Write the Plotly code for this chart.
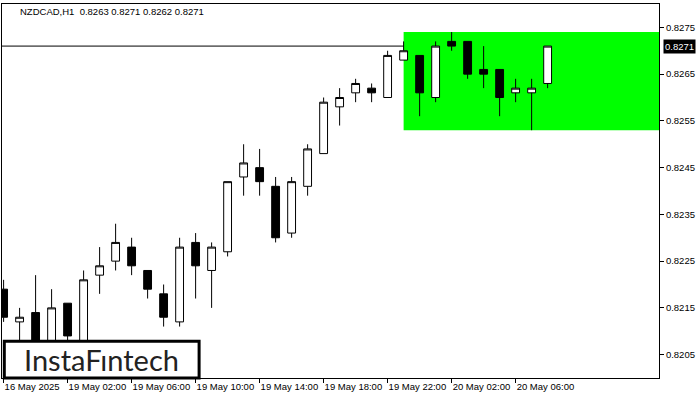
import plotly.graph_objects as go

# ---- data ----
opens = [0.8219, 0.8212, 0.8214, 0.8208, 0.8216, 0.8208, 0.8222, 0.8225, 0.8228, 0.8223,
         0.8218, 0.8212, 0.8229, 0.8223, 0.8227, 0.8243, 0.8245, 0.8241, 0.8231, 0.8241,
         0.8248, 0.8258, 0.8261, 0.8262, 0.8260, 0.8268, 0.8269, 0.8260, 0.8272, 0.8272,
         0.8266, 0.8266, 0.8261, 0.8261, 0.8263]
highs = [0.8221, 0.8215, 0.8222, 0.8219, 0.8216, 0.8223, 0.8228, 0.8233, 0.8230, 0.8223,
         0.8220, 0.8230, 0.8231, 0.8229, 0.8242, 0.8250, 0.8249, 0.8243, 0.8243, 0.8250,
         0.8260, 0.8262, 0.8264, 0.8263, 0.8270, 0.8272, 0.8269, 0.8272, 0.8274, 0.8272,
         0.8271, 0.8266, 0.8264, 0.8264, 0.8271]
lows = [0.8212, 0.8207, 0.8205, 0.8206, 0.8207, 0.8206, 0.8218, 0.8223, 0.8222, 0.8217,
        0.8211, 0.8211, 0.8217, 0.8215, 0.8226, 0.8239, 0.8239, 0.8229, 0.8230, 0.8239,
        0.8248, 0.8254, 0.8259, 0.8259, 0.8260, 0.8268, 0.8256, 0.8259, 0.8270, 0.8264,
        0.8262, 0.8256, 0.8259, 0.8253, 0.8262]
closes = [0.8213, 0.8213, 0.8207, 0.8215, 0.8209, 0.8221, 0.8224, 0.8229, 0.8224, 0.8219,
          0.8213, 0.8228, 0.8224, 0.8228, 0.8242, 0.8246, 0.8242, 0.8230, 0.8242, 0.8249,
          0.8259, 0.8260, 0.8263, 0.8261, 0.8269, 0.8270, 0.8261, 0.8271, 0.8271, 0.8265,
          0.8265, 0.8260, 0.8262, 0.8262, 0.8271]

x_tick_labels = ["16 May 2025", "19 May 02:00", "19 May 06:00", "19 May 10:00",
                 "19 May 14:00", "19 May 18:00", "19 May 22:00", "20 May 02:00",
                 "20 May 06:00"]
x_tick_step = 4

y_tick_values = [0.8205, 0.8215, 0.8225, 0.8235, 0.8245, 0.8255, 0.8265, 0.8275]
y_tick_labels = ["0.8205", "0.8215", "0.8225", "0.8235", "0.8245", "0.8255", "0.8265", "0.8275"]

symbol = "NZDCAD,H1"
current_price = 0.8271
zone_start_index = 25
zone_top = 0.8274
zone_bottom = 0.8253

# ---- figure ----
idx = list(range(len(opens)))
x_range = [-0.1, 40.96]

fig = go.Figure()
fig.add_trace(go.Candlestick(
    x=idx, open=opens, high=highs, low=lows, close=closes,
    increasing=dict(line=dict(color="black", width=1), fillcolor="white"),
    decreasing=dict(line=dict(color="black", width=1), fillcolor="black"),
    whiskerwidth=0, showlegend=False, hoverinfo="skip",
))

FONT = "Liberation Sans"

fig.update_layout(
    width=700, height=400,
    margin=dict(l=2, r=41, t=4, b=22, autoexpand=False),
    paper_bgcolor="white", plot_bgcolor="white",
    showlegend=False,
    xaxis=dict(
        range=x_range, rangeslider=dict(visible=False),
        tickvals=[i * x_tick_step for i in range(len(x_tick_labels))],
        ticktext=x_tick_labels, tickangle=0, automargin=False,
        ticks="outside", ticklen=4, tickcolor="black",
        ticklabelposition="outside right", ticklabeloverflow="allow",
        showgrid=False, zeroline=False,
        showline=True, linecolor="black", linewidth=1, mirror=True,
        tickfont=dict(family=FONT, size=9.5, color="black"),
    ),
    yaxis=dict(
        range=[0.8200, 0.8280], side="right", automargin=False,
        tickvals=y_tick_values, ticktext=y_tick_labels,
        ticklabeloverflow="allow",
        ticks="outside", ticklen=4, tickcolor="black",
        showgrid=False, zeroline=False,
        showline=True, linecolor="black", linewidth=1, mirror=True,
        tickfont=dict(family=FONT, size=9.5, color="black"),
    ),
    shapes=[
        dict(type="rect", xref="x", yref="y",
             x0=zone_start_index, x1=x_range[1], y0=zone_bottom, y1=zone_top,
             fillcolor="#00FF00", line=dict(width=0), layer="below"),
        dict(type="line", xref="paper", yref="y", x0=0, x1=1,
             y0=current_price, y1=current_price,
             line=dict(color="black", width=1), layer="below"),
        dict(type="rect", xref="paper", yref="paper",
             x0=0.0035, x1=0.3, y0=0.0, y1=0.098,
             fillcolor="white", line=dict(color="black", width=3), layer="above"),
    ],
    annotations=[
        dict(text=f"{symbol}  {opens[-1]:.4f} {highs[-1]:.4f} {lows[-1]:.4f} {closes[-1]:.4f}",
             xref="paper", yref="paper", x=0.024, y=0.981,
             xanchor="left", yanchor="middle", showarrow=False,
             font=dict(family=FONT, size=9.5, color="black")),
        dict(text=f"{current_price:.4f}", xref="paper", yref="y",
             x=1.006, y=current_price, xanchor="left", yanchor="middle",
             showarrow=False, bgcolor="black", borderpad=1,
             font=dict(family=FONT, size=9.5, color="white")),
        dict(text="InstaF\u0131ntech", xref="paper", yref="paper",
             x=0.152, y=0.05, xanchor="center", yanchor="middle",
             showarrow=False,
             font=dict(family="Lato", size=29, color="#222222")),
    ],
)

fig.write_html(
    "out.html",
    config={"displayModeBar": False},
    post_script="document.body.style.margin='0';document.body.style.overflow='hidden';",
)
